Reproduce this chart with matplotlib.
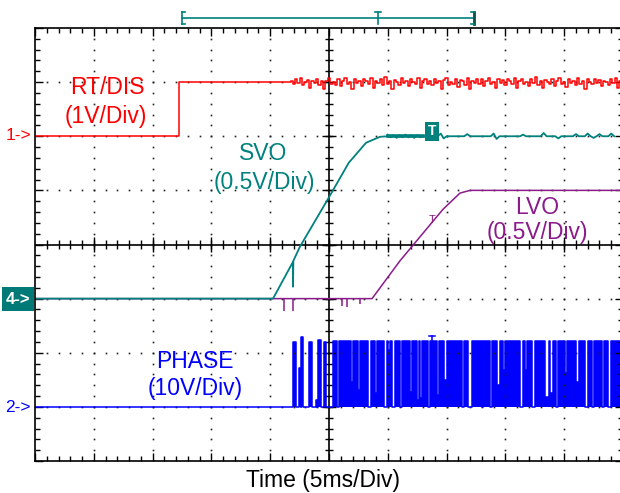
import numpy as np
import matplotlib.pyplot as plt

plt.rcParams['font.family'] = ['Liberation Sans', 'DejaVu Sans']

RED = '#ff0000'
TEAL = '#00817d'
PURPLE = '#8b1a8b'
BLUE = '#0000ff'

# time in ms (5 ms/div, 10 div), amplitude in screen divisions (0..8)
rt_t = [0.0, 12.24, 12.24, 21.8]
rt_v = [6.0, 6.0, 7.0, 7.0]
# RT/DIS ripple after 21.8 ms, one value every 0.2 ms
rt_noise = [0.02, -0.03, 0.06, -0.02, 0.08, -0.06, 0.01, 0.04, -0.10, 0.03,
            -0.02, 0.06, -0.05, 0.02, -0.12, 0.03, 0.07, -0.03, 0.01, -0.05,
            0.05, -0.08, 0.02, 0.08, -0.04, 0.01, -0.13, 0.05, -0.02, 0.03,
            -0.07, 0.06, 0.02, -0.03, 0.08, -0.11, 0.03, -0.01, 0.05, -0.06,
            0.09, -0.03, 0.02, -0.12, 0.04, 0.01, -0.05, 0.07, -0.02, 0.03,
            -0.08, 0.06, 0.01, -0.04, 0.08, -0.11, 0.02, 0.05, -0.04, 0.02,
            -0.06, 0.06, -0.02, 0.03, -0.12, 0.04, 0.08, -0.05, 0.01, -0.03,
            0.06, -0.09, 0.04, 0.02, -0.05, 0.07, -0.13, 0.03, -0.01, 0.05,
            -0.04, 0.06, -0.07, 0.02, 0.08, -0.04, 0.01, -0.10, 0.06, -0.02,
            0.04, -0.06, 0.05, 0.02, -0.03, 0.07, -0.10, 0.02, 0.05, -0.04,
            0.01, -0.07, 0.06, -0.02, 0.09, -0.05, 0.02, -0.11, 0.04, 0.01,
            -0.03, 0.06, -0.08, 0.03, 0.07, -0.04, 0.01, -0.09, 0.05, -0.02,
            0.03, -0.06, 0.08, -0.03, 0.02, -0.12, 0.05, 0.01, -0.04, 0.06,
            -0.02, 0.04, -0.07, 0.03, 0.01, -0.05, 0.06, -0.02, 0.08, -0.10,
            0.03, -0.04, 0.05, -0.08, 0.02, 0.06]

svo_t = [0.0, 20.24, 21.94, 21.94, 21.97, 22.53, 24.91, 26.68, 28.15, 29.34, 30.0]
svo_v = [3.0, 3.0, 3.68, 3.22, 3.70, 3.96, 4.84, 5.51, 5.88, 5.99, 6.0]
# SVO ripple after 30 ms, one value every 0.25 ms
svo_noise = [0.03, -0.02, 0.02, -0.03, 0.02, -0.02, 0.03, -0.02, 0.02, -0.03,
             0.02, -0.02, 0.0, 0.0, 0.0, 0.0, 0.0, 0.0, 0.05, -0.04,
             0.0, 0.0, 0.0, 0.0, 0.0, 0.0, 0.0, 0.04, 0.0, 0.0,
             0.0, 0.0, 0.0, 0.0, 0.0, 0.0, 0.05, -0.05, 0.0, 0.0,
             0.0, 0.0, 0.0, 0.0, 0.0, 0.0, 0.03, 0.0, 0.0, 0.0,
             0.0, 0.0, 0.0, 0.06, 0.0, 0.0, 0.0, 0.0, -0.04, 0.0,
             0.0, 0.0, 0.0, 0.0, 0.04, 0.0, 0.0, 0.0, 0.05, 0.0,
             -0.03, 0.0, 0.04, 0.0, 0.0, 0.0, 0.05, 0.0]

lvo_t = [0.0, 28.66, 31.04, 34.69, 36.14, 36.99, 50.0]
lvo_v = [3.0, 3.0, 3.70, 4.65, 4.95, 5.0, 5.0]
lvo_glitch_t = [21.17, 21.94, 26.1, 26.5, 27.6]
lvo_glitch_v = [2.77, 2.77, 2.86, 2.84, 2.90]

# PHASE: isolated first pulses (start, end, top) then dense switching with gaps
phase_pulses = [(21.94, 22.19, 2.20), (22.45, 22.62, 1.72), (22.62, 22.79, 2.29),
                (23.30, 23.55, 2.20), (23.89, 23.98, 1.13), (24.06, 24.32, 2.24),
                (24.57, 24.74, 2.20)]
phase_on = 25.34
phase_high = 2.22
phase_gaps = [(25.68, 25.85, 1.0), (26.90, 27.02, 1.46), (27.47, 27.64, 1.31),
              (28.32, 28.57, 1.0), (28.91, 29.08, 1.26), (29.68, 29.93, 1.0),
              (30.02, 30.19, 2.05), (30.36, 30.61, 1.0), (31.04, 31.21, 1.0),
              (31.89, 32.06, 1.28), (32.48, 32.65, 1.13), (32.74, 32.91, 1.16),
              (33.42, 33.59, 1.0), (34.18, 34.35, 1.22), (34.78, 35.03, 1.5),
              (36.31, 36.48, 1.0), (36.82, 37.16, 1.0), (38.01, 38.10, 1.0),
              (38.69, 38.86, 1.0), (39.28, 39.54, 1.40), (39.80, 39.97, 1.68),
              (41.24, 41.50, 1.0), (41.67, 41.84, 1.68), (42.26, 42.52, 1.0),
              (43.37, 43.71, 1.18), (43.79, 44.05, 1.26), (44.30, 44.47, 1.0),
              (45.07, 45.24, 1.63), (46.00, 46.26, 1.46), (46.77, 47.02, 1.0),
              (47.36, 47.53, 1.0), (48.21, 48.38, 1.0), (48.72, 48.98, 1.0)]

W, H = 620, 493
fig = plt.figure(figsize=(W / 100, H / 100), dpi=100)
ax = fig.add_axes([35 / W, 32 / H, 588 / W, 433 / H])
ax.set_xlim(0, 50)
ax.set_ylim(0, 8)

for s in ax.spines.values():
    s.set_linewidth(1.2)
ax.set_xticks(np.arange(0, 51, 5))
ax.set_xticks(np.arange(0, 51, 1), minor=True)
ax.set_yticks(np.arange(0, 9, 1))
ax.set_yticks(np.arange(0, 8.01, 0.2), minor=True)
ax.tick_params(which='both', direction='in', top=True, right=True,
               labelbottom=False, labelleft=False, width=1.0)
ax.tick_params(which='major', length=6)
ax.tick_params(which='minor', length=3.3)

# dotted graticule
for gx in range(5, 50, 5):
    if gx == 25:
        continue
    ys = np.arange(0.2, 8, 0.2)
    ax.plot([gx] * len(ys), ys, ls='none', marker='s', ms=1.2, color='#222222', mew=0)
for gy in range(1, 8):
    if gy == 4:
        continue
    xs = np.arange(1, 50, 1)
    ax.plot(xs, [gy] * len(xs), ls='none', marker='s', ms=1.2, color='#222222', mew=0)

# centre crosshair with ticks
ax.axhline(4, color='black', lw=1.2)
ax.axvline(25, color='black', lw=1.2)
ax.vlines(np.arange(1, 50, 1), 4 - 0.075, 4 + 0.075, color='black', lw=1.0)
ax.vlines(np.arange(5, 50, 5), 4 - 0.13, 4 + 0.13, color='black', lw=1.0)
ax.hlines(np.arange(0.2, 8, 0.2), 25 - 0.34, 25 + 0.34, color='black', lw=1.0)
ax.hlines(np.arange(1, 8, 1), 25 - 0.6, 25 + 0.6, color='black', lw=1.0)

# LVO (drawn first, below SVO)
ax.plot(lvo_t, lvo_v, color=PURPLE, lw=1.1)
ax.vlines(lvo_glitch_t, lvo_glitch_v, 3.0, color=PURPLE, lw=1.1)
ax.text(33.76, 4.45, 'T', color=PURPLE, fontsize=8, ha='center', va='center')

# SVO
ax.plot(svo_t, svo_v, color=TEAL, lw=1.3)
nt = 30.0 + 0.25 * np.arange(len(svo_noise))
ax.plot(nt, 6.0 + np.array(svo_noise), color=TEAL, lw=1.3)
ax.plot([30.0, 33.0], [6.0, 6.0], color=TEAL, lw=2.6)
ax.text(33.76, 6.09, 'T', color='white', fontsize=10, fontweight='bold',
        ha='center', va='center',
        bbox=dict(boxstyle='square,pad=0.18', fc=TEAL, ec='none'))

# RT/DIS
ax.plot(rt_t, rt_v, color=RED, lw=1.1)
rn_t = 21.8 + 0.2 * np.arange(len(rt_noise))
ax.plot(rn_t, 7.0 + np.array(rt_noise), color=RED, lw=1.1, drawstyle='steps-mid')

# PHASE
px, py = [0.0], [1.0]
for s, e, lvl in phase_pulses:
    px += [s, s, e, e]
    py += [1.0, lvl, lvl, 1.0]
px += [phase_on, phase_on]
py += [1.0, phase_high]
for s, e, lvl in phase_gaps:
    px += [s, s, e, e]
    py += [phase_high, lvl, lvl, phase_high]
px += [50.0]
py += [phase_high]
ax.fill_between(px, 1.0, py, color=BLUE, lw=0)
ax.plot(px, py, color=BLUE, lw=1.1)
ax.plot([33.5, 34.0], [2.31, 2.31], color=BLUE, lw=1.1)
ax.plot([33.76, 33.76], [2.31, 2.22], color=BLUE, lw=1.1)

# top bracket (horizontal position marker)
kw = dict(color=TEAL, lw=1.2, clip_on=False)
ax.plot([12.5, 37.33], [8.19, 8.19], **kw)
ax.plot([12.5, 12.5], [8.08, 8.30], **kw)
ax.plot([12.5, 12.75], [8.30, 8.30], **kw)
ax.plot([12.5, 12.75], [8.08, 8.08], **kw)
ax.plot([37.33, 37.33], [8.08, 8.30], color='#0b4f4c', lw=2.0, clip_on=False)
ax.plot([37.1, 37.33], [8.30, 8.30], **kw)
ax.plot([37.1, 37.33], [8.08, 8.08], **kw)
ax.plot([29.17, 29.17], [8.08, 8.30], **kw)
ax.plot([28.9, 29.44], [8.30, 8.30], **kw)


def ftext(x, y, s, **kw):
    fig.text(x / W, 1 - y / H, s, ha='center', va='center', **kw)


ftext(107, 88, 'RT/DIS', color=RED, fontsize=16.5)
ftext(106, 117, '(1V/Div)', color=RED, fontsize=16.5)
ftext(263, 154, 'SVO', color=TEAL, fontsize=16.5)
ftext(264, 182, '(0.5V/Div)', color=TEAL, fontsize=16.5)
ftext(537, 208, 'LVO', color=PURPLE, fontsize=16.5)
ftext(537, 232, '(0.5V/Div)', color=PURPLE, fontsize=16.5)
ftext(195, 362, 'PHASE', color=BLUE, fontsize=16.5)
ftext(195, 389, '(10V/Div)', color=BLUE, fontsize=16.5)
ftext(323, 480, 'Time (5ms/Div)', color='black', fontsize=16.5)

ftext(18, 136, '1->', color=RED, fontsize=12.5)
ftext(18, 407, '2->', color=BLUE, fontsize=12.5)
ftext(18, 299, '4->', color='white', fontsize=12, fontweight='bold',
      bbox=dict(boxstyle='square,pad=0.25', fc='#007a77', ec='none'))

fig.savefig('out.png', dpi=100)
